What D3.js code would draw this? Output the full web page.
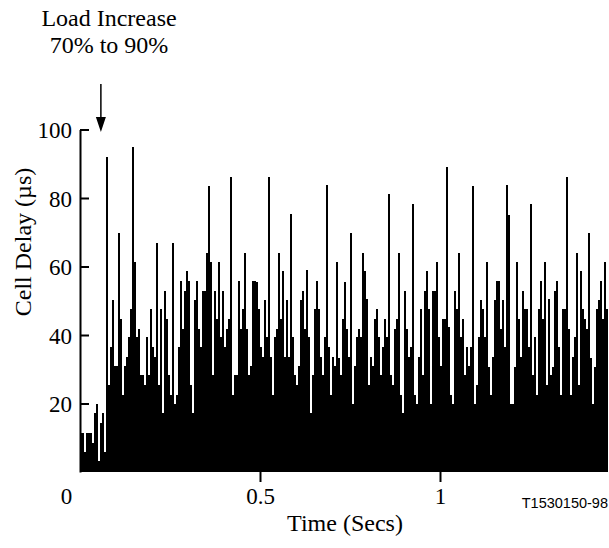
<!DOCTYPE html>
<html>
<head>
<meta charset="utf-8">
<script src="https://cdn.jsdelivr.net/npm/d3@7/dist/d3.min.js"></script>
<style>
  html, body { margin: 0; padding: 0; background: #fff; }
  svg { display: block; }
</style>
</head>
<body>
<script>
// ---- Data (cell delay in µs, one value per sampling bin) ----
const binWidthSecs = 1 / 180;          // width of one sampling bin on the time axis
const loadIncreaseTime = 0.058;        // time at which load increases (annotation)

const delayPart1 = [
  11.3, 11.3, 5.9, 11.3, 11.3, 11.3, 8.6, 17.1, 19.9, 3.3,
  14.4, 17.1, 5.9, 91.9, 25.4, 36.4, 50.2, 30.9, 30.9, 69.7,
  44.6, 22.4, 30.9, 33.7, 39.3, 47.5, 94.8, 61.3, 39.3, 41.8,
  28.2, 28.2, 25.4, 39.3, 28.2, 47.5, 36.4, 33.7, 66.8, 25.4,
  47.5, 17.1, 52.9, 44.6, 28.2, 22.4, 66.8, 19.9, 22.4, 36.4,
  55.7, 41.8, 52.9, 58.6, 55.7, 25.4, 17.1, 50.2, 55.7, 41.8,
  36.4, 52.9, 52.9, 64.0, 83.5, 61.3, 28.2, 52.9, 44.6, 61.3,
  39.3, 52.9, 36.4, 41.8, 44.6, 86.0, 22.4, 28.2, 28.2, 55.7,
  41.8, 47.5, 64.0, 41.8, 28.2, 30.9, 55.7
];
const delayPart2 = [
  55.7, 55.5, 47.5, 36.4, 33.7, 50.2, 39.3, 86.0, 33.7, 22.4,
  39.3, 41.8, 64.0, 44.6, 58.6, 33.7, 50.2, 33.7, 75.3, 39.3,
  28.2, 25.4, 30.9, 50.2, 52.9, 41.8, 59.0, 39.3, 17.1, 28.2,
  47.5, 55.7, 47.5, 33.7, 28.2, 39.3, 83.7, 36.4, 22.4, 33.7,
  30.9, 61.3, 33.3, 28.2, 44.6, 55.5, 41.8, 33.7, 69.7, 19.9,
  30.9, 39.3, 41.8, 39.3, 64.0, 58.6, 50.4, 25.4, 33.7, 30.9,
  44.6, 47.5, 39.3, 28.2, 36.4, 44.6, 39.3, 81.2, 28.2, 25.4,
  41.8, 44.6, 64.0, 22.4, 17.1, 52.9, 41.8, 33.7, 36.4, 78.2,
  22.4, 19.9, 33.7, 47.5, 28.2, 52.9, 58.6, 47.5
];
const delayPart3 = [
  19.9, 52.9, 52.9, 61.3, 39.3, 30.9, 44.6, 44.6, 89.0, 42.2,
  22.4, 19.9, 52.9, 47.5, 64.0, 39.3, 44.6, 28.2, 36.4, 30.9,
  36.4, 83.5, 19.9, 25.4, 39.3, 50.2, 47.5, 39.3, 61.3, 30.8,
  22.4, 33.7, 50.2, 55.7, 55.7, 41.8, 50.2, 36.4, 83.7, 74.9,
  19.9, 19.9, 30.8, 61.3, 44.6, 33.7, 52.9, 47.5, 47.5, 36.4,
  78.2, 28.2, 39.3, 22.4, 47.5, 55.7, 44.6, 61.3, 25.5, 50.4,
  28.2, 30.8, 52.9, 55.7, 36.4, 22.4, 47.5, 47.5, 86.0, 41.8,
  22.4, 33.5, 39.3, 64.0, 25.4, 58.6, 47.5, 44.6, 41.8, 69.7,
  33.3, 19.9, 30.8, 47.5, 50.2, 55.7, 44.6, 61.3, 47.5
];
const cellDelay = delayPart1.concat(delayPart2, delayPart3);

const xTickValues = [0, 0.5, 1];
const xTickLabels = ["0", "0.5", "1"];
const yTickValues = [20, 40, 60, 80, 100];

const xTitle = "Time (Secs)";
const yTitle = "Cell Delay (µs)";
const annotationLines = ["Load Increase", "70% to 90%"];
const figureId = "T1530150-98";

// ---- Layout ----
const SERIF = "'Liberation Serif', 'Times New Roman', Times, serif";
const SANS = "'Liberation Sans', Arial, Helvetica, sans-serif";
const FS = 23;      // tick labels
const FT = 24;      // titles / annotation

const W = 609, H = 548;
const svg = d3.select("body").append("svg").attr("width", W).attr("height", H);

const x = d3.scaleLinear()
  .domain([0, cellDelay.length * binWidthSecs])
  .range([80, 608]);
const y = d3.scaleLinear().domain([0, 100]).range([472, 129.5]);

// Bars
svg.append("g")
  .attr("shape-rendering", "crispEdges")
  .selectAll("rect")
  .data(cellDelay)
  .join("rect")
  .attr("x", (d, i) => x(i * binWidthSecs))
  .attr("width", x(binWidthSecs) - x(0))
  .attr("y", d => y(d))
  .attr("height", d => y(0) - y(d))
  .attr("fill", "#000");

// Y axis (ticks pointing inward, labels on the left)
const yAxis = d3.axisLeft(y)
  .tickValues(yTickValues)
  .tickSizeInner(-9)
  .tickSizeOuter(0)
  .tickPadding(8)
  .tickFormat(d3.format("d"));
const yg = svg.append("g").attr("transform", "translate(80,0)").call(yAxis)
  .attr("font-family", SERIF).attr("font-size", FS);
yg.select(".domain").attr("stroke", "#000").attr("stroke-width", 2);
yg.selectAll(".tick line").attr("stroke", "#000").attr("stroke-width", 2);
yg.selectAll(".tick text")
  .style("font-family", SERIF)
  .style("font-size", FS + "px")
  .attr("fill", "#000")
  .attr("dy", "0.36em");

// X axis (downward ticks, no axis line)
const xAxis = d3.axisBottom(x)
  .tickValues(xTickValues)
  .tickSizeInner(10)
  .tickSizeOuter(0)
  .tickPadding(6)
  .tickFormat((d, i) => xTickLabels[i]);
const xg = svg.append("g").attr("transform", "translate(0,472)").call(xAxis)
  .attr("font-family", SERIF).attr("font-size", FS);
xg.select(".domain").remove();
xg.selectAll(".tick line").attr("stroke", "#000").attr("stroke-width", 2)
  .attr("display", d => d === 0 ? "none" : null);
xg.selectAll(".tick text")
  .style("font-family", SERIF)
  .style("font-size", FS + "px")
  .attr("fill", "#000")
  .attr("dx", d => d === 0 ? -14 : 0);

// Axis titles
svg.append("text")
  .attr("x", 345).attr("y", 531)
  .attr("text-anchor", "middle")
  .style("font-family", SERIF).style("font-size", FT + "px")
  .text(xTitle);

svg.append("text")
  .attr("transform", "translate(31,242) rotate(-90)")
  .attr("text-anchor", "middle")
  .style("font-family", SERIF).style("font-size", FT + "px")
  .text(yTitle);

// Annotation
const ann = svg.append("text")
  .attr("text-anchor", "middle")
  .style("font-family", SERIF).style("font-size", FT + "px");
ann.selectAll("tspan")
  .data(annotationLines)
  .join("tspan")
  .attr("x", 109)
  .attr("y", (d, i) => 26 + i * 27)
  .text(d => d);

const ax = x(loadIncreaseTime);
svg.append("line")
  .attr("x1", ax).attr("x2", ax)
  .attr("y1", 84).attr("y2", 120)
  .attr("stroke", "#000").attr("stroke-width", 1.5);
svg.append("path")
  .attr("d", `M${ax - 5},117 L${ax + 5},117 L${ax},132 Z`)
  .attr("fill", "#000");

// Figure id
svg.append("text")
  .attr("x", 608).attr("y", 508)
  .attr("text-anchor", "end")
  .style("font-family", SANS).style("font-size", "14.5px")
  .text(figureId);
</script>
</body>
</html>
